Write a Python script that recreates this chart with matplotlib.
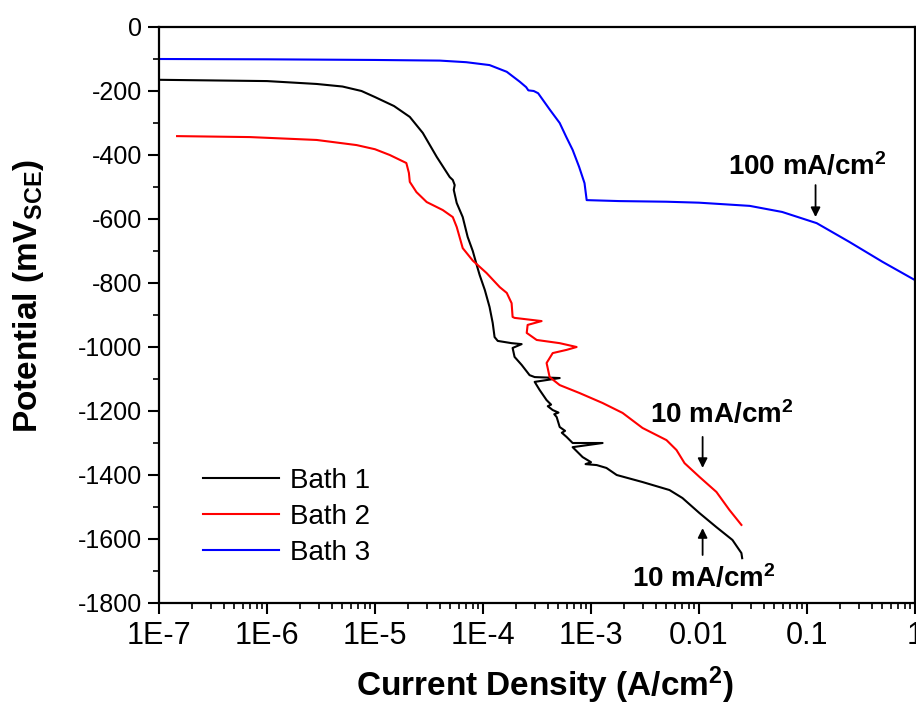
import matplotlib
matplotlib.use("Agg")
import matplotlib.pyplot as plt
from matplotlib.ticker import FixedLocator, MultipleLocator, LogLocator, NullFormatter

plt.rcParams['font.family'] = ['Liberation Sans', 'DejaVu Sans']
plt.rcParams['mathtext.default'] = 'regular'
plt.rcParams['axes.unicode_minus'] = False

# Polarization curves: current density (A/cm2) vs potential (mV vs SCE)
bath1_i = [1.00e-7, 1.00e-6, 2.88e-6, 5.00e-6, 7.50e-6, 1.00e-5, 1.50e-5, 2.10e-5,
           2.77e-5, 3.73e-5, 4.92e-5, 5.25e-5, 5.47e-5, 5.36e-5, 5.71e-5, 6.49e-5,
           7.21e-5, 8.04e-5, 8.75e-5, 9.31e-5, 1.04e-4, 1.15e-4, 1.23e-4, 1.28e-4,
           1.37e-4, 1.84e-4, 2.28e-4, 1.88e-4, 1.96e-4, 2.28e-4, 2.70e-4, 3.01e-4,
           5.13e-4, 3.01e-4, 3.34e-4, 3.88e-4, 4.27e-4, 3.98e-4, 4.42e-4, 5.00e-4,
           4.57e-4, 4.81e-4, 5.13e-4, 5.75e-4, 5.37e-4, 5.94e-4, 6.76e-4, 1.28e-3,
           6.76e-4, 8.36e-4, 1.00e-3, 8.90e-4, 1.13e-3, 1.39e-3, 1.73e-3, 3.00e-3,
           5.33e-3, 7.03e-3, 1.01e-2, 1.45e-2, 2.04e-2, 2.47e-2, 2.51e-2]
bath1_e = [-165, -169, -178, -186, -200, -219, -247, -281,
           -331, -406, -469, -478, -494, -509, -550, -594,
           -656, -700, -744, -775, -822, -875, -925, -969,
           -981, -988, -991, -1003, -1031, -1056, -1088, -1094,
           -1097, -1109, -1134, -1166, -1180, -1185, -1197, -1205,
           -1210, -1219, -1250, -1262, -1268, -1281, -1300, -1300,
           -1313, -1344, -1360, -1366, -1369, -1378, -1400, -1422,
           -1447, -1472, -1519, -1563, -1603, -1644, -1660]

bath2_i = [1.47e-7, 6.95e-7, 2.88e-6, 6.75e-6, 1.00e-5, 1.37e-5, 1.95e-5, 2.06e-5,
           2.10e-5, 2.42e-5, 3.01e-5, 4.24e-5, 5.25e-5, 5.71e-5, 6.49e-5, 8.04e-5,
           1.08e-4, 1.43e-4, 1.66e-4, 1.84e-4, 1.88e-4, 1.96e-4, 3.49e-4, 2.59e-4,
           2.54e-4, 3.14e-4, 5.13e-4, 7.36e-4, 5.94e-4, 4.42e-4, 3.88e-4, 4.14e-4,
           5.13e-4, 7.85e-4, 1.28e-3, 1.96e-3, 3.00e-3, 5.00e-3, 6.19e-3, 7.35e-3,
           1.01e-2, 1.45e-2, 1.91e-2, 2.47e-2]
bath2_e = [-341, -344, -353, -369, -382, -400, -425, -456,
           -484, -516, -547, -572, -594, -625, -691, -730,
           -769, -813, -831, -863, -906, -909, -919, -931,
           -956, -978, -988, -1000, -1009, -1019, -1050, -1094,
           -1119, -1144, -1175, -1206, -1253, -1291, -1322, -1363,
           -1406, -1453, -1509, -1556]

bath3_i = [1.0e-7, 1.0e-6, 1.0e-5, 3.98e-5, 7.0e-5, 1.15e-4, 1.66e-4, 2.19e-4,
           2.51e-4, 2.63e-4, 2.95e-4, 3.24e-4, 4.17e-4, 5.13e-4, 5.89e-4, 6.76e-4,
           7.76e-4, 8.71e-4, 9.12e-4, 1.82e-3, 5.0e-3, 1.0e-2, 2.95e-2, 5.89e-2,
           1.23e-1, 2.45e-1, 5.01e-1, 1.0, 1.1]
bath3_e = [-100, -101, -103, -105, -110, -119, -140, -171,
           -188, -198, -200, -207, -259, -300, -343, -384,
           -437, -488, -541, -544, -546, -549, -559, -578,
           -613, -671, -734, -791, -805]

xtick_vals = [1e-7, 1e-6, 1e-5, 1e-4, 1e-3, 1e-2, 1e-1, 1]
xtick_labels = ['1E-7', '1E-6', '1E-5', '1E-4', '1E-3', '0.01', '0.1', '1']

fig = plt.figure(figsize=(9.16, 7.08), dpi=100)
ax = fig.add_axes([159 / 916, 1 - 603 / 708, 756 / 916, 576 / 708])

ax.plot(bath1_i, bath1_e, color='black', lw=1.5, label='Bath 1')
ax.plot(bath2_i, bath2_e, color='red', lw=1.5, label='Bath 2')
ax.plot(bath3_i, bath3_e, color='blue', lw=1.5, label='Bath 3')

ax.set_xscale('log')
ax.set_xlim(1e-7, 1)
ax.set_ylim(-1800, 0)

ax.xaxis.set_major_locator(FixedLocator(xtick_vals))
ax.set_xticklabels(xtick_labels, family=['Liberation Sans Narrow', 'Liberation Sans'])
ax.xaxis.set_minor_locator(LogLocator(base=10, subs=range(2, 10), numticks=20))
ax.xaxis.set_minor_formatter(NullFormatter())
ax.yaxis.set_major_locator(MultipleLocator(200))
ax.yaxis.set_minor_locator(MultipleLocator(100))

for s in ax.spines.values():
    s.set_linewidth(1.6)
ax.tick_params(which='major', direction='out', length=8, width=1.5, labelsize=18, pad=4)
ax.tick_params(which='minor', direction='out', length=4.5, width=1.2)
ax.tick_params(axis='x', labelsize=22, pad=5)

ax.set_xlabel(r'Current Density (A/cm$^{2}$)', fontsize=24, fontweight='bold', va='center')
ax.xaxis.set_label_coords(0.5105, -0.142)
ax.set_ylabel(r'Potential (mV$_{SCE}$)', fontsize=24, fontweight='bold', va='center')
ax.yaxis.set_label_coords(-0.173, 0.533)

# current density markers
arrow = dict(arrowstyle='-|>', color='black', lw=1.3, mutation_scale=14, shrinkA=0, shrinkB=0)
ax.annotate('', xy=(0.12, -594), xytext=(0.12, -494), arrowprops=arrow)
ax.text(0.1, -462, r'100 mA/cm$^{2}$', ha='center', va='baseline', fontsize=20, fontweight='bold')
ax.annotate('', xy=(0.0108, -1378), xytext=(0.0108, -1281), arrowprops=arrow)
ax.text(0.0161, -1237, r'10 mA/cm$^{2}$', ha='center', va='baseline', fontsize=20, fontweight='bold')
ax.annotate('', xy=(0.0108, -1566), xytext=(0.0108, -1650), arrowprops=arrow)
ax.text(0.011, -1750, r'10 mA/cm$^{2}$', ha='center', va='baseline', fontsize=20, fontweight='bold')

ax.legend(loc='upper left', bbox_to_anchor=(0.058, 0.234), frameon=False, fontsize=20,
          handlelength=2.75, handletextpad=0.4, labelspacing=0.35, borderpad=0, borderaxespad=0)

fig.savefig('out.png', dpi=100)
